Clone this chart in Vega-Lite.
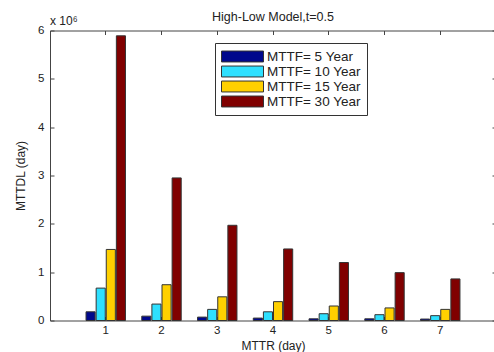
{
  "$schema": "https://vega.github.io/schema/vega-lite/v6.json",
  "width": 446,
  "height": 290,
  "autosize": "none",
  "padding": {"left": 50, "top": 30.5, "right": 0, "bottom": 31.5},
  "background": "white",
  "title": {
    "text": "High-Low Model,t=0.5",
    "font": "Liberation Sans",
    "fontSize": 12.5,
    "fontWeight": "normal",
    "color": "#222",
    "anchor": "middle",
    "frame": "group",
    "baseline": "bottom",
    "offset": -22
  },
  "data": {
    "values": [
      {"mttr": "1", "mttf": "MTTF= 5 Year", "mttdl": 0.18},
      {"mttr": "1", "mttf": "MTTF= 10 Year", "mttdl": 0.67},
      {"mttr": "1", "mttf": "MTTF= 15 Year", "mttdl": 1.47},
      {"mttr": "1", "mttf": "MTTF= 30 Year", "mttdl": 5.89},
      {"mttr": "2", "mttf": "MTTF= 5 Year", "mttdl": 0.09},
      {"mttr": "2", "mttf": "MTTF= 10 Year", "mttdl": 0.34},
      {"mttr": "2", "mttf": "MTTF= 15 Year", "mttdl": 0.74},
      {"mttr": "2", "mttf": "MTTF= 30 Year", "mttdl": 2.95},
      {"mttr": "3", "mttf": "MTTF= 5 Year", "mttdl": 0.07},
      {"mttr": "3", "mttf": "MTTF= 10 Year", "mttdl": 0.23},
      {"mttr": "3", "mttf": "MTTF= 15 Year", "mttdl": 0.49},
      {"mttr": "3", "mttf": "MTTF= 30 Year", "mttdl": 1.97},
      {"mttr": "4", "mttf": "MTTF= 5 Year", "mttdl": 0.05},
      {"mttr": "4", "mttf": "MTTF= 10 Year", "mttdl": 0.18},
      {"mttr": "4", "mttf": "MTTF= 15 Year", "mttdl": 0.39},
      {"mttr": "4", "mttf": "MTTF= 30 Year", "mttdl": 1.48},
      {"mttr": "5", "mttf": "MTTF= 5 Year", "mttdl": 0.035},
      {"mttr": "5", "mttf": "MTTF= 10 Year", "mttdl": 0.14},
      {"mttr": "5", "mttf": "MTTF= 15 Year", "mttdl": 0.3},
      {"mttr": "5", "mttf": "MTTF= 30 Year", "mttdl": 1.2},
      {"mttr": "6", "mttf": "MTTF= 5 Year", "mttdl": 0.035},
      {"mttr": "6", "mttf": "MTTF= 10 Year", "mttdl": 0.12},
      {"mttr": "6", "mttf": "MTTF= 15 Year", "mttdl": 0.26},
      {"mttr": "6", "mttf": "MTTF= 30 Year", "mttdl": 0.99},
      {"mttr": "7", "mttf": "MTTF= 5 Year", "mttdl": 0.03},
      {"mttr": "7", "mttf": "MTTF= 10 Year", "mttdl": 0.1},
      {"mttr": "7", "mttf": "MTTF= 15 Year", "mttdl": 0.23},
      {"mttr": "7", "mttf": "MTTF= 30 Year", "mttdl": 0.86}
    ]
  },
  "layer": [
    {
      "mark": {"type": "bar", "stroke": "#333", "strokeWidth": 1},
      "encoding": {
        "x": {
          "field": "mttr",
          "type": "nominal",
          "scale": {"paddingInner": 0.275, "paddingOuter": 0.6375},
          "axis": {
            "orient": "bottom",
            "title": "MTTR (day)",
            "labelAngle": 0,
            "tickSize": -4,
            "labelPadding": 8,
            "titlePadding": 4
          }
        },
        "xOffset": {
          "field": "mttf",
          "type": "nominal",
          "sort": ["MTTF= 5 Year", "MTTF= 10 Year", "MTTF= 15 Year", "MTTF= 30 Year"],
          "scale": {"paddingInner": 0.1, "paddingOuter": 0.05}
        },
        "y": {
          "field": "mttdl",
          "type": "quantitative",
          "scale": {"domain": [0, 6], "nice": false, "zero": true},
          "axis": {
            "orient": "left",
            "title": "MTTDL (day)",
            "values": [0, 1, 2, 3, 4, 5, 6],
            "tickSize": -4,
            "labelPadding": 10,
            "titlePadding": 10
          }
        },
        "color": {
          "field": "mttf",
          "type": "nominal",
          "sort": ["MTTF= 5 Year", "MTTF= 10 Year", "MTTF= 15 Year", "MTTF= 30 Year"],
          "scale": {
            "domain": ["MTTF= 5 Year", "MTTF= 10 Year", "MTTF= 15 Year", "MTTF= 30 Year"],
            "range": ["#00088c", "#2ee0ff", "#ffd000", "#800000"]
          },
          "legend": {
            "title": null,
            "orient": "none",
            "legendX": 165,
            "legendY": 12.5,
            "direction": "vertical",
            "symbolType": "M-1,-0.26H1V0.26H-1Z",
            "symbolSize": 1764,
            "symbolStrokeColor": "#333",
            "symbolStrokeWidth": 1,
            "symbolOpacity": 1,
            "clipHeight": 15,
            "rowPadding": 0,
            "labelOffset": 3,
            "labelFont": "Liberation Sans",
            "labelFontSize": 13.5,
            "labelColor": "#222",
            "labelLimit": 200,
            "padding": 6,
            "strokeColor": "#333",
            "fillColor": "white"
          }
        }
      }
    },
    {
      "mark": {"type": "point", "opacity": 0},
      "encoding": {
        "x": {
          "field": "mttr",
          "type": "nominal",
          "scale": {"paddingInner": 0.275, "paddingOuter": 0.6375},
          "axis": {"orient": "top", "title": null, "labels": false, "tickSize": -4}
        },
        "y": {
          "field": "mttdl",
          "type": "quantitative",
          "axis": {"orient": "right", "title": null, "labels": false, "values": [0, 1, 2, 3, 4, 5, 6], "tickSize": -4}
        }
      }
    },
    {
      "data": {"values": [{"exponent": "x 10⁶"}]},
      "mark": {"type": "text", "align": "left", "baseline": "alphabetic", "dy": -6, "font": "Liberation Sans", "fontSize": 12, "color": "#222"},
      "encoding": {
        "x": {"value": 0},
        "y": {"datum": 6, "type": "quantitative", "axis": null},
        "text": {"field": "exponent"}
      }
    }
  ],
  "resolve": {"axis": {"x": "independent", "y": "independent"}},
  "config": {
    "view": {"stroke": null},
    "axis": {
      "grid": false,
      "domainColor": "#444",
      "tickColor": "#444",
      "labelColor": "#222",
      "titleColor": "#222",
      "labelFont": "Liberation Sans",
      "titleFont": "Liberation Sans",
      "labelFontSize": 11.5,
      "titleFontSize": 12,
      "titleFontWeight": "normal"
    }
  }
}
